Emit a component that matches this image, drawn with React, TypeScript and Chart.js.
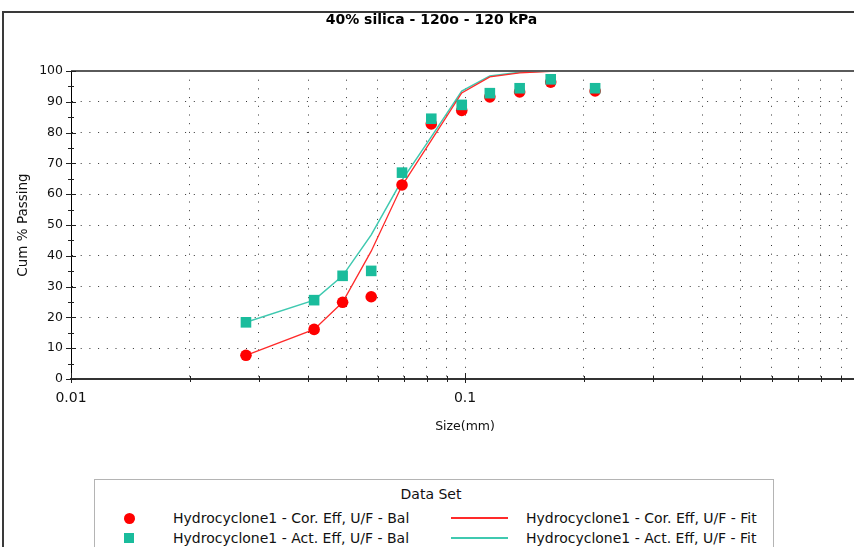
import React, { useEffect, useRef } from "react";
import { Chart, registerables } from "chart.js";

Chart.register(...registerables);

// Particle size (mm) of each sieve fraction
const sizes = [0.0278, 0.0414, 0.0489, 0.0578, 0.0692, 0.0821, 0.0981, 0.1156, 0.1376, 0.165, 0.2139];
// Cumulative % passing – balanced values
const corEffBal = [7.7, 16.1, 24.9, 26.7, 63.0, 82.8, 87.2, 91.6, 93.2, 96.4, 93.5];
const actEffBal = [18.4, 25.6, 33.5, 35.1, 67.0, 84.5, 89.0, 92.8, 94.4, 97.3, 94.4];
// Cumulative % passing – model fit
const corEffFit = [7.7, 16.1, 24.9, 41.5, 62.8, 77.5, 92.9, 98.1, 99.4, 99.9, 100];
const actEffFit = [18.4, 25.6, 33.5, 46.8, 64.6, 78.6, 93.5, 98.4, 99.6, 100, 100];

// Log axis grid positions and linear axis steps
const xTickValues = [
  0.01, 0.02, 0.03, 0.04, 0.05, 0.06, 0.07, 0.08, 0.09,
  0.1, 0.2, 0.3, 0.4, 0.5, 0.6, 0.7, 0.8, 0.9, 1,
];
const yMin = 0;
const yMax = 100;
const yMajorStep = 10;
const yMinorStep = 5;

const TITLE = "40% silica - 120o - 120 kPa";
const X_TITLE = "Size(mm)";
const Y_TITLE = "Cum % Passing";
const LEGEND_TITLE = "Data Set";
const LABEL_COR_BAL = "Hydrocyclone1 - Cor. Eff, U/F - Bal";
const LABEL_ACT_BAL = "Hydrocyclone1 - Act. Eff, U/F - Bal";
const LABEL_COR_FIT = "Hydrocyclone1 - Cor. Eff, U/F - Fit";
const LABEL_ACT_FIT = "Hydrocyclone1 - Act. Eff, U/F - Fit";

const FONT = "'DejaVu Sans', Verdana, sans-serif";
const RED = "#ff0000";
const RED_LINE = "#ff2a2a";
const TEAL = "#1abc9c";
const TEAL_LINE = "#3fc9b0";

const isDecade = (v: number) => {
  const l = Math.log10(v);
  return Math.abs(l - Math.round(l)) < 1e-9;
};

const pts = (ys: number[]) => sizes.map((x, i) => ({ x, y: ys[i] }));

// Plot frame top edge plus the small tick marks that cross both axes
const axisMarks = {
  id: "axisMarks",
  afterDraw(chart: any) {
    const { ctx, chartArea, scales } = chart;
    const { left, right, top, bottom } = chartArea;
    ctx.save();
    ctx.strokeStyle = "#5a5a5a";
    ctx.lineWidth = 2;
    ctx.beginPath();
    ctx.moveTo(left, top);
    ctx.lineTo(right, top);
    ctx.stroke();

    ctx.strokeStyle = "#222";
    ctx.lineWidth = 1;
    for (let v = yMin; v <= yMax; v += yMinorStep) {
      const y = Math.round(scales.y.getPixelForValue(v)) + 0.5;
      const len = v % yMajorStep === 0 ? 5 : 3;
      ctx.beginPath();
      ctx.moveTo(left - len, y);
      ctx.lineTo(left + len, y);
      ctx.stroke();
    }
    for (const v of xTickValues) {
      const x = Math.round(scales.x.getPixelForValue(v)) + 0.5;
      const major = isDecade(v);
      ctx.beginPath();
      ctx.moveTo(x, bottom - (major ? 6 : 3));
      ctx.lineTo(x, bottom + (major ? 4 : 3));
      ctx.stroke();
    }
    ctx.restore();
  },
};

function LegendRow({ top, marker, label, left }: any) {
  return (
    <>
      <div style={{ position: "absolute", left: left, top: top - 8, height: 16, lineHeight: "16px", whiteSpace: "nowrap", fontSize: 14, color: "#111" }}>
        {label}
      </div>
      {marker}
    </>
  );
}

export default function App() {
  const canvasRef = useRef<HTMLCanvasElement | null>(null);

  useEffect(() => {
    if (!canvasRef.current) return;
    const chart = new Chart(canvasRef.current, {
      type: "scatter",
      data: {
        datasets: [
          {
            label: LABEL_ACT_BAL,
            data: pts(actEffBal),
            pointStyle: "rect",
            pointRadius: 7.5,
            pointBorderWidth: 0,
            backgroundColor: TEAL,
            borderColor: TEAL,
            showLine: false,
            order: 0,
          },
          {
            label: LABEL_COR_BAL,
            data: pts(corEffBal),
            pointStyle: "circle",
            pointRadius: 5.8,
            pointBorderWidth: 0,
            backgroundColor: RED,
            borderColor: RED,
            showLine: false,
            order: 1,
          },
          {
            label: LABEL_ACT_FIT,
            data: pts(actEffFit),
            showLine: true,
            pointRadius: 0,
            borderColor: TEAL_LINE,
            backgroundColor: TEAL_LINE,
            borderWidth: 1.5,
            tension: 0,
            order: 3,
          },
          {
            label: LABEL_COR_FIT,
            data: pts(corEffFit),
            showLine: true,
            pointRadius: 0,
            borderColor: RED_LINE,
            backgroundColor: RED_LINE,
            borderWidth: 1.3,
            tension: 0,
            order: 2,
          },
        ],
      },
      options: {
        animation: false,
        responsive: false,
        maintainAspectRatio: false,
        layout: { padding: { left: 0, right: 11, top: 0, bottom: 0 } },
        plugins: {
          legend: { display: false },
          tooltip: { enabled: false },
          title: {
            display: true,
            text: TITLE,
            color: "#000",
            font: { family: FONT, size: 14, weight: "bold" },
            padding: { top: 12.2, bottom: 42 },
          },
        },
        scales: {
          x: {
            type: "logarithmic",
            min: 0.01,
            max: 1,
            position: "bottom",
            afterBuildTicks: (scale: any) => {
              scale.ticks = xTickValues.map((value) => ({ value }));
            },
            afterFit: (scale: any) => {
              scale.height = 168;
            },
            ticks: {
              autoSkip: false,
              maxRotation: 0,
              minRotation: 0,
              padding: 10.5,
              color: "#111",
              font: { family: FONT, size: 14 },
              callback: (v: any) => (isDecade(Number(v)) ? String(v) : ""),
            },
            grid: { color: "#333", lineWidth: 1, drawTicks: false },
            border: { color: "#333", width: 2, dash: [1, 7.7] },
            title: {
              display: true,
              text: X_TITLE,
              color: "#111",
              font: { family: FONT, size: 12.5 },
              padding: { top: 0, bottom: 113 },
            },
          },
          y: {
            type: "linear",
            min: yMin,
            max: yMax,
            afterFit: (scale: any) => {
              scale.width = 71;
            },
            ticks: {
              stepSize: yMajorStep,
              padding: 8,
              color: "#111",
              font: { family: FONT, size: 12.5 },
            },
            grid: { color: "#333", lineWidth: 1, drawTicks: false },
            border: { color: "#000", width: 1, dash: [1, 7.7] },
            title: {
              display: true,
              text: Y_TITLE,
              color: "#111",
              font: { family: FONT, size: 13.5 },
              padding: { top: 15.6, bottom: 0 },
            },
          },
        },
      },
      plugins: [axisMarks],
    } as any);
    return () => chart.destroy();
  }, []);

  const boxLeft = 94;
  const boxTop = 479;
  const rel = (x: number) => x - boxLeft - 1;
  const relY = (y: number) => y - boxTop - 1;

  return (
    <div
      style={{
        position: "fixed",
        left: 0,
        top: 0,
        width: 854,
        height: 547,
        overflow: "hidden",
        background: "#fff",
        fontFamily: FONT,
      }}
    >
      <canvas ref={canvasRef} width={874} height={547} style={{ display: "block", position: "absolute", left: 0, top: 0 }} />
      <div
        style={{
          position: "absolute",
          left: 2,
          top: 11,
          width: 900,
          height: 600,
          borderLeft: "2px solid #3a3a3a",
          borderTop: "2px solid #3a3a3a",
          pointerEvents: "none",
        }}
      />
      <div
        style={{
          position: "absolute",
          left: boxLeft,
          top: boxTop,
          width: 678,
          height: 100,
          border: "1px solid #b4b4b4",
          background: "#fff",
        }}
      >
        <div
          style={{
            position: "absolute",
            left: rel(431),
            top: relY(494) - 8,
            transform: "translateX(-50%)",
            lineHeight: "16px",
            fontSize: 14,
            color: "#111",
            whiteSpace: "nowrap",
          }}
        >
          {LEGEND_TITLE}
        </div>
        <LegendRow
          top={relY(518)}
          left={rel(173)}
          label={LABEL_COR_BAL}
          marker={<div style={{ position: "absolute", left: rel(129) - 5.5, top: relY(518) - 5.5, width: 11, height: 11, borderRadius: "50%", background: RED }} />}
        />
        <LegendRow
          top={relY(537.5)}
          left={rel(173)}
          label={LABEL_ACT_BAL}
          marker={<div style={{ position: "absolute", left: rel(129) - 5, top: relY(537.5) - 5, width: 10, height: 10, background: TEAL }} />}
        />
        <LegendRow
          top={relY(518)}
          left={rel(526)}
          label={LABEL_COR_FIT}
          marker={<div style={{ position: "absolute", left: rel(451), top: relY(518) - 1, width: 57, height: 2, background: RED_LINE }} />}
        />
        <LegendRow
          top={relY(537.5)}
          left={rel(526)}
          label={LABEL_ACT_FIT}
          marker={<div style={{ position: "absolute", left: rel(451), top: relY(538) - 1, width: 57, height: 2, background: TEAL_LINE }} />}
        />
      </div>
    </div>
  );
}
